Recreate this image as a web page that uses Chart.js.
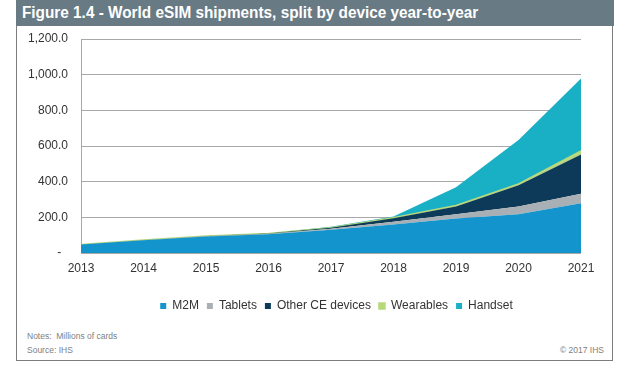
<!DOCTYPE html>
<html>
<head>
<meta charset="utf-8">
<script src="https://cdn.jsdelivr.net/npm/chart.js@4.4.1/dist/chart.umd.min.js"></script>
<style>
  html, body { margin: 0; padding: 0; background: #fff; }
  body { width: 627px; height: 368px; position: relative; overflow: hidden; font-family: "Liberation Sans", Arial, sans-serif; }
  #frame { position: absolute; left: 16px; top: 0; width: 597px; height: 361px; border: 1px solid #7d7d7d; border-top: none; box-sizing: border-box; }
  #titlebar { position: absolute; left: 16px; top: 0; width: 598px; height: 26px; background: #687a84; }
  #title { position: absolute; left: 22px; top: 4px; color: #fff; font: bold 16px "Liberation Sans Narrow", "Liberation Sans", sans-serif; white-space: nowrap; transform-origin: left top; }
  #wrap { position: absolute; left: 16px; top: 26px; width: 598px; height: 300px; }
  .note { position: absolute; font-size: 8.5px; color: #808080; white-space: nowrap; }
</style>
</head>
<body>
<div id="frame"></div>
<div id="titlebar"></div>
<div id="title">Figure 1.4 - World eSIM shipments, split by device year-to-year</div>
<div id="wrap"><canvas id="eSimChart"></canvas></div>
<div class="note" style="left:27px; top:331px;">Notes:&nbsp; Millions of cards</div>
<div class="note" style="left:27px; top:345px;">Source: IHS</div>
<div class="note" style="right:23px; top:345px;">&copy; 2017 IHS</div>

<script>
// squeeze the title to the width it has in the picture
const titleEl = document.getElementById("title");
titleEl.style.transform = "scaleX(" + (456 / titleEl.offsetWidth) + ")";

const years = ["2013", "2014", "2015", "2016", "2017", "2018", "2019", "2020", "2021"];

// millions of cards, stacked layers
const m2m       = [48, 72, 93, 105, 130, 160, 194, 217, 279];
const tablets   = [0, 1, 2, 3, 6, 15, 23, 44, 53];
const otherCE   = [0, 0, 1, 2, 5, 20, 44, 119, 221];
const wearables = [0, 0, 0, 0, 1, 3, 5, 7, 19];
const handset   = [0, 0, 0, 1, 5, 6, 102, 246, 406];

const yTicks = [0, 200, 400, 600, 800, 1000, 1200];

const ctx = document.getElementById("eSimChart");

function layer(label, data, color, fill) {
  return {
    label: label,
    data: data,
    backgroundColor: color,
    borderColor: color,
    borderWidth: label === "Wearables" ? 1.5 : 0,
    pointRadius: 0,
    fill: fill,
    tension: 0
  };
}

// the legend sits a little right of centre in the original
const legendShift = {
  id: "legendShift",
  afterLayout(chart) {
    if (chart.legend) {
      chart.legend.left += 38;
      chart.legend.right += 38;
    }
  }
};

new Chart(ctx, {
  type: "line",

  data: {
    labels: years,
    datasets: [
      layer("M2M", m2m, "#1394cd", "origin"),
      layer("Tablets", tablets, "#a9b0b5", "-1"),
      layer("Other CE devices", otherCE, "#0d3a58", "-1"),
      layer("Wearables", wearables, "#b7d97c", "-1"),
      layer("Handset", handset, "#19afc4", "-1")
    ]
  },

  options: {
    responsive: true,
    maintainAspectRatio: false,
    animation: false,

    layout: {
      padding: { top: 13, right: 33, left: 0, bottom: 4 }
    },

    scales: {
      x: {
        offset: false,
        grid: { display: false, drawTicks: false },
        border: { display: false },
        ticks: {
          color: "#333",
          font: { family: "Liberation Sans", size: 12 },
          padding: 8,
          maxRotation: 0
        },
        afterFit: (scale) => { scale.height = 39; }
      },
      y: {
        stacked: true,
        min: 0,
        max: 1200,
        afterBuildTicks: (scale) => { scale.ticks = yTicks.map(v => ({ value: v })); },
        grid: { color: "#a8a8a8", lineWidth: 1, drawTicks: true, tickLength: 10, tickColor: "rgba(0,0,0,0)" },
        border: { display: true, color: "#a8a8a8" },
        ticks: {
          color: "#333",
          font: { family: "Liberation Sans", size: 12 },
          padding: 3,
          callback: (v) => v === 0 ? "-  " : v.toLocaleString("en-US", { minimumFractionDigits: 1 })
        },
        afterFit: (scale) => { scale.width = 65; }
      }
    },

    plugins: {
      tooltip: { enabled: false },
      legend: {
        position: "bottom",
        labels: {
          color: "#333",
          font: { family: "Liberation Sans", size: 12 },
          boxWidth: 6,
          boxHeight: 6,
          padding: 8
        }
      }
    }
  },

  plugins: [legendShift]
});
</script>
</body>
</html>
